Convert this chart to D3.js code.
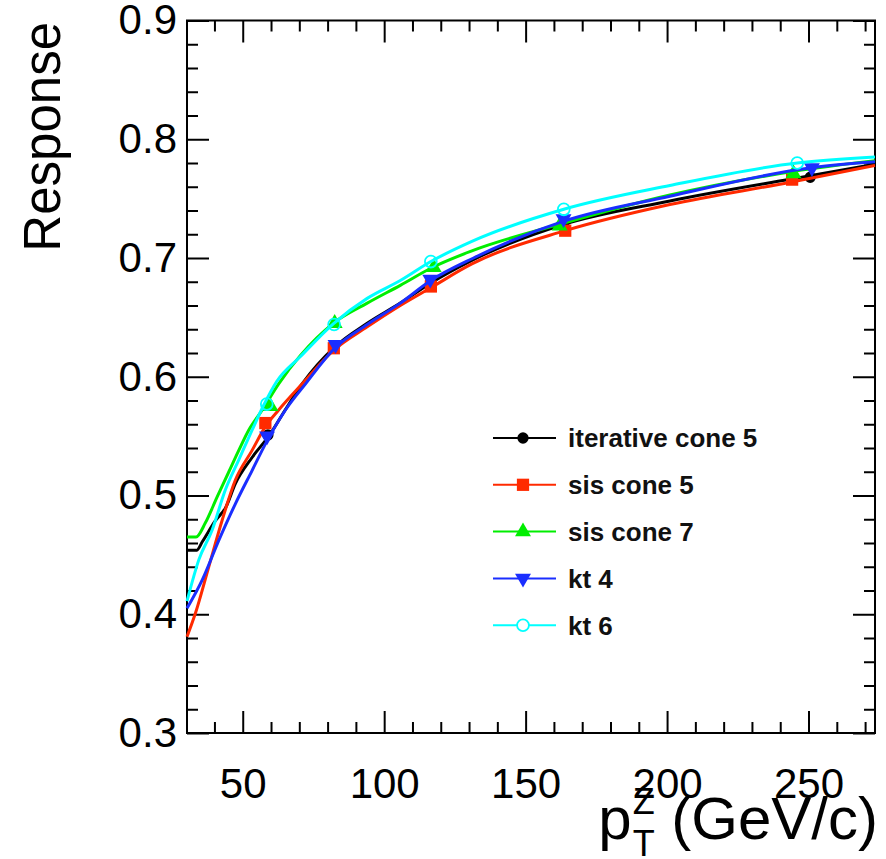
<!DOCTYPE html>
<html>
<head>
<meta charset="utf-8">
<script src="https://cdn.jsdelivr.net/npm/d3@7"></script>
<style>
  body { margin: 0; background: #fff; }
  svg text { font-family: "Liberation Sans", Arial, Helvetica, sans-serif; }
</style>
</head>
<body>
<div id="my_dataviz"></div>
<script>
// jet algorithms, in drawing order
const seriesNames = ["iterative cone 5", "sis cone 5", "sis cone 7", "kt 4", "kt 6"];

// measured points (pT of Z in GeV/c, response)
const ptIC5  = [58.9, 82.5, 116.5, 163.5, 250.6];
const respIC5 = [0.551, 0.626, 0.680, 0.729, 0.768];
const ptSIS5  = [58.0, 82.2, 116.5, 164.0, 244.2];
const respSIS5 = [0.561, 0.624, 0.676, 0.723, 0.766];
const ptSIS7  = [59.8, 82.5, 117.5, 162.0, 244.7];
const respSIS7 = [0.575, 0.645, 0.692, 0.727, 0.771];
const ptKT4  = [58.6, 82.8, 116.3, 163.4, 251.2];
const respKT4 = [0.550, 0.627, 0.682, 0.733, 0.776];
const ptKT6  = [58.5, 82.3, 116.5, 163.5, 246.0];
const respKT6 = [0.577, 0.644, 0.697, 0.741, 0.780];

// fitted curves as [pT, response]
const curveIC5 = [[30.3,0.454],[33.8,0.454],[35.7,0.461],[40.4,0.479],[44,0.490],[47.4,0.510],[53.3,0.532],[59.8,0.552],[65,0.572],[71,0.594],[82.5,0.625],[94,0.645],[105.7,0.662],[116.5,0.679],[131,0.698],[163,0.728],[201,0.748],[250,0.769],[273.5,0.779]];
const curveSIS5 = [[30.3,0.381],[33.3,0.401],[38,0.440],[42.7,0.479],[47.4,0.513],[53.3,0.538],[58,0.558],[62.7,0.572],[71,0.594],[82,0.622],[94,0.642],[105.7,0.660],[116.5,0.675],[131,0.695],[164,0.723],[201,0.745],[244,0.764],[273.5,0.778]];
const curveSIS7 = [[30.3,0.465],[33.5,0.465],[36.8,0.477],[41,0.499],[45.1,0.520],[48.6,0.538],[52.1,0.555],[56.9,0.572],[62.7,0.594],[70.4,0.618],[82,0.645],[94,0.662],[105.7,0.677],[117,0.692],[131,0.706],[163,0.729],[201,0.753],[245,0.773],[273.5,0.782]];
const curveKT4 = [[30.3,0.405],[35.7,0.429],[41.5,0.462],[47.4,0.493],[53.3,0.521],[58.6,0.546],[65.1,0.572],[72.2,0.594],[82.5,0.624],[94,0.644],[105.7,0.662],[116.5,0.681],[131.6,0.700],[163.5,0.731],[201,0.752],[251,0.776],[273.5,0.781]];
const curveKT6 = [[30.3,0.411],[34.5,0.446],[39.2,0.471],[43.9,0.505],[48.6,0.530],[53.3,0.555],[57.4,0.576],[62,0.596],[70.4,0.617],[82.2,0.645],[94,0.666],[105.7,0.681],[116.5,0.697],[131,0.714],[163.5,0.741],[201,0.761],[246,0.780],[273.5,0.785]];

// axis ranges and ticks
const xDomain = [30.3, 273.5];
const yDomain = [0.3, 0.9];
const xMajorTicks = [50, 100, 150, 200, 250];
const yMajorTicks = [0.3, 0.4, 0.5, 0.6, 0.7, 0.8, 0.9];

const ptList = [ptIC5, ptSIS5, ptSIS7, ptKT4, ptKT6];
const respList = [respIC5, respSIS5, respSIS7, respKT4, respKT6];
const curveList = [curveIC5, curveSIS5, curveSIS7, curveKT4, curveKT6];

const colors = ["#000000", "#ff2a00", "#00ee00", "#1a2eff", "#00ffff"];
const symbols = [d3.symbolCircle, d3.symbolSquare, d3.symbolTriangle, d3.symbolTriangle, d3.symbolCircle];
const symbolSizes = [100, 150, 110, 110, 110];
const symbolRotate = [0, 0, 0, 180, 0];
const symbolFilled = [true, true, true, true, false];

const margin = {top: 20.5, right: 11, bottom: 126, left: 187},
    fullWidth = 886, fullHeight = 859,
    width = fullWidth - margin.left - margin.right,
    height = fullHeight - margin.top - margin.bottom;

const svg = d3.select("#my_dataviz")
    .append("svg")
        .attr("width", fullWidth)
        .attr("height", fullHeight)
    .append("g")
        .attr("transform", "translate(" + margin.left + "," + margin.top + ")");

const x = d3.scaleLinear().domain(xDomain).range([0, width]);
const y = d3.scaleLinear().domain(yDomain).range([height, 0]);

const xMinor = d3.range(40, 274, 10).filter(v => xMajorTicks.indexOf(v) < 0);
const yMinor = d3.range(0.32, 0.9, 0.02).map(v => +v.toFixed(2)).filter(v => Math.round(v * 100) % 10 !== 0);

function styleAxis(g) {
    g.select(".domain").remove();
    g.selectAll(".tick line").attr("stroke", "#000").attr("stroke-width", 2);
}

// bottom axis with labels
svg.append("g")
    .attr("transform", "translate(0," + height + ")")
    .call(d3.axisBottom(x).tickValues(xMajorTicks).tickSize(-22).tickPadding(35).tickFormat(d3.format("d")))
    .call(styleAxis)
    .selectAll("text").attr("font-size", 42).attr("fill", "#000");
svg.append("g")
    .attr("transform", "translate(0," + height + ")")
    .call(d3.axisBottom(x).tickValues(xMinor).tickSize(-11).tickFormat(""))
    .call(styleAxis);

// top axis, ticks only
svg.append("g")
    .call(d3.axisTop(x).tickValues(xMajorTicks).tickSize(-22).tickFormat(""))
    .call(styleAxis);
svg.append("g")
    .call(d3.axisTop(x).tickValues(xMinor).tickSize(-11).tickFormat(""))
    .call(styleAxis);

// left axis with labels
svg.append("g")
    .call(d3.axisLeft(y).tickValues(yMajorTicks).tickSize(-22).tickPadding(10).tickFormat(d3.format(".1f")))
    .call(styleAxis)
    .selectAll("text").attr("font-size", 42).attr("fill", "#000");
svg.append("g")
    .call(d3.axisLeft(y).tickValues(yMinor).tickSize(-11).tickFormat(""))
    .call(styleAxis);

// right axis, ticks only
svg.append("g")
    .attr("transform", "translate(" + width + ",0)")
    .call(d3.axisRight(y).tickValues(yMajorTicks).tickSize(-22).tickFormat(""))
    .call(styleAxis);
svg.append("g")
    .attr("transform", "translate(" + width + ",0)")
    .call(d3.axisRight(y).tickValues(yMinor).tickSize(-11).tickFormat(""))
    .call(styleAxis);

// frame
svg.append("rect")
    .attr("width", width)
    .attr("height", height)
    .attr("fill", "none")
    .attr("stroke", "#000")
    .attr("stroke-width", 2);

const line = d3.line()
    .x(d => x(d[0]))
    .y(d => y(d[1]))
    .curve(d3.curveMonotoneX);

function marker(i) {
    return d3.symbol().type(symbols[i]).size(symbolSizes[i])();
}

seriesNames.forEach(function(name, i) {
    svg.append("path")
        .datum(curveList[i])
        .attr("fill", "none")
        .attr("stroke", colors[i])
        .attr("stroke-width", 3)
        .attr("d", line);

    svg.selectAll(".pt" + i)
        .data(ptList[i].map((p, k) => [p, respList[i][k]]))
        .enter().append("path")
        .attr("class", "pt" + i)
        .attr("d", marker(i))
        .attr("transform", d => "translate(" + x(d[0]) + "," + y(d[1]) + ") rotate(" + symbolRotate[i] + ")")
        .attr("fill", symbolFilled[i] ? colors[i] : "none")
        .attr("stroke", colors[i])
        .attr("stroke-width", symbolFilled[i] ? 0 : 1.8);
});

// legend
const legend = svg.selectAll(".legend")
    .data(seriesNames)
    .enter().append("g")
    .attr("class", "legend")
    .attr("transform", function(d, i) { return "translate(" + (493 - margin.left) + "," + (438 - margin.top + i * 46.8) + ")"; });

legend.append("line")
    .attr("x1", 0).attr("x2", 63)
    .attr("stroke", (d, i) => colors[i])
    .attr("stroke-width", 2);

legend.append("path")
    .attr("d", (d, i) => marker(i))
    .attr("transform", (d, i) => "translate(30,0) rotate(" + symbolRotate[i] + ")")
    .attr("fill", (d, i) => symbolFilled[i] ? colors[i] : "#fff")
    .attr("stroke", (d, i) => colors[i])
    .attr("stroke-width", (d, i) => symbolFilled[i] ? 0 : 1.8);

legend.append("text")
    .attr("x", 75)
    .attr("dy", "0.36em")
    .attr("font-size", 26)
    .attr("font-weight", "bold")
    .attr("fill", "#111")
    .text(d => d);

// axis titles
svg.append("text")
    .attr("transform", "translate(" + (60 - margin.left) + "," + (22 - margin.top) + ") rotate(-90)")
    .attr("text-anchor", "end")
    .attr("font-size", 51)
    .attr("fill", "#000")
    .text("Response");

const xTitle = svg.append("text")
    .attr("x", 878 - margin.left)
    .attr("y", 839 - margin.top)
    .attr("text-anchor", "end")
    .attr("font-size", 60)
    .attr("fill", "#000");
xTitle.append("tspan").text("p");
xTitle.append("tspan").attr("font-size", 36).attr("dy", -25).attr("dx", 1).text("Z");
xTitle.append("tspan").attr("font-size", 36).attr("dx", -22).attr("dy", 42).text("T");
xTitle.append("tspan").attr("dy", -17).text(" (GeV/c)");
</script>
</body>
</html>
